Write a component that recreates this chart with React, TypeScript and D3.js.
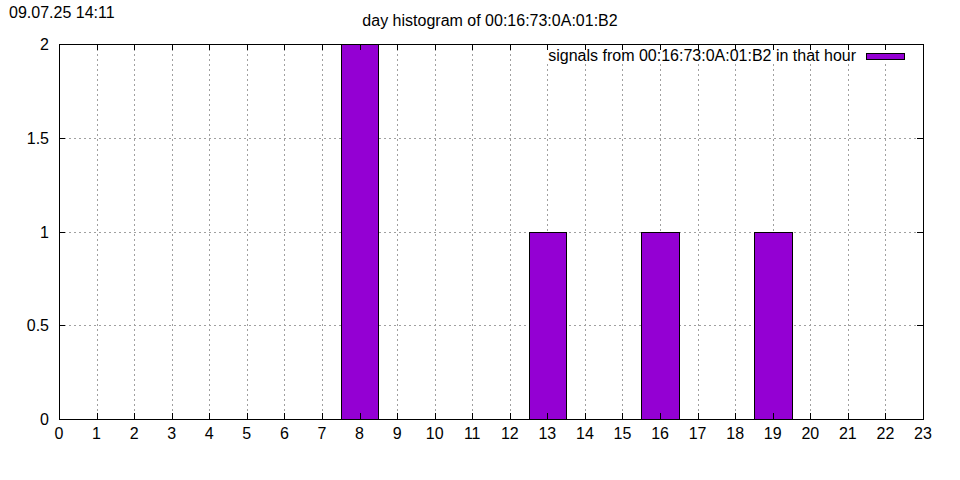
import React, { useEffect, useRef } from 'react';
import * as d3 from 'd3';

// hourly counts
const hours = d3.range(0, 24);
const counts = [0, 0, 0, 0, 0, 0, 0, 0, 2, 0, 0, 0, 0, 1, 0, 0, 1, 0, 0, 1, 0, 0, 0, 0];
const yTicks = [0, 0.5, 1, 1.5, 2];
const xTicks = d3.range(0, 24);

const title = 'day histogram of 00:16:73:0A:01:B2';
const stamp = '09.07.25 14:11';
const legendLabel = 'signals from 00:16:73:0A:01:B2 in that hour';

const App: React.FC = () => {
  const svgRef = useRef<SVGSVGElement>(null);

  useEffect(() => {
    if (!svgRef.current) return;
    const svg = d3.select(svgRef.current);
    svg.selectAll('*').remove();

    const left = 59, right = 923, top = 44, bottom = 419;
    const font = 'Liberation Sans, Arial, sans-serif';

    const x = d3.scaleLinear().domain([0, 23]).range([left, right]);
    const y = d3.scaleLinear().domain([0, 2]).range([bottom, top]);

    svg.append('rect').attr('width', 960).attr('height', 480).attr('fill', '#fff');

    // grid
    const grid = svg.append('g').attr('stroke', '#a0a0a0').attr('stroke-width', 1)
      .attr('stroke-dasharray', '2,3');
    grid.selectAll('.gx').data(xTicks.slice(1, -1)).join('line')
      .attr('x1', d => Math.round(x(d)) + 0.5).attr('x2', d => Math.round(x(d)) + 0.5)
      .attr('y1', top).attr('y2', bottom);
    grid.selectAll('.gy').data(yTicks.slice(1, -1)).join('line')
      .attr('y1', d => Math.round(y(d)) + 0.5).attr('y2', d => Math.round(y(d)) + 0.5)
      .attr('x1', left).attr('x2', right);

    // legend box (opaque)
    svg.append('rect').attr('x', 543).attr('y', top + 1).attr('width', 370).attr('height', 19)
      .attr('fill', '#fff');

    // bars
    const data = hours.map((h, i) => ({ h, v: counts[i] })).filter(d => d.v > 0);
    svg.append('g').selectAll('rect').data(data).join('rect')
      .attr('x', d => Math.round(x(d.h - 0.5)) + 0.5)
      .attr('width', d => Math.round(x(d.h + 0.5)) - Math.round(x(d.h - 0.5)))
      .attr('y', d => Math.round(y(d.v)) + 0.5)
      .attr('height', d => Math.round(y(0)) - Math.round(y(d.v)))
      .attr('fill', '#9400d3').attr('stroke', '#000').attr('stroke-width', 1);

    // ticks (mirrored, inward)
    const tk = svg.append('g').attr('stroke', '#000').attr('stroke-width', 1);
    xTicks.forEach(t => {
      const px = Math.round(x(t)) + 0.5;
      tk.append('line').attr('x1', px).attr('x2', px).attr('y1', bottom).attr('y2', bottom - 6);
      tk.append('line').attr('x1', px).attr('x2', px).attr('y1', top).attr('y2', top + 6);
    });
    yTicks.forEach(t => {
      const py = Math.round(y(t)) + 0.5;
      tk.append('line').attr('x1', left).attr('x2', left + 6).attr('y1', py).attr('y2', py);
      tk.append('line').attr('x1', right).attr('x2', right - 6).attr('y1', py).attr('y2', py);
    });

    // border
    svg.append('rect').attr('x', left + 0.5).attr('y', top + 0.5)
      .attr('width', right - left).attr('height', bottom - top)
      .attr('fill', 'none').attr('stroke', '#000').attr('stroke-width', 1);

    // tick labels
    svg.append('g').selectAll('text').data(xTicks).join('text')
      .attr('x', d => x(d)).attr('y', 439).attr('text-anchor', 'middle')
      .attr('font-family', font).attr('font-size', 16).text(d => String(d));
    svg.append('g').selectAll('text').data(yTicks).join('text')
      .attr('x', 49).attr('y', d => y(d) + 6).attr('text-anchor', 'end')
      .attr('font-family', font).attr('font-size', 16).text(d => String(d));

    // legend
    svg.append('text').attr('x', 856).attr('y', 61).attr('text-anchor', 'end')
      .attr('font-family', font).attr('font-size', 16).text(legendLabel);
    svg.append('rect').attr('x', 866.5).attr('y', 53.5).attr('width', 38).attr('height', 6)
      .attr('fill', '#9400d3').attr('stroke', '#000');

    // title and timestamp
    svg.append('text').attr('x', 490).attr('y', 26).attr('text-anchor', 'middle')
      .attr('font-family', font).attr('font-size', 16).text(title);
    svg.append('text').attr('x', 9).attr('y', 18)
      .attr('font-family', font).attr('font-size', 16).text(stamp);
  }, []);

  return (
    <svg ref={svgRef} width={960} height={480}
      style={{ position: 'absolute', left: 0, top: 0, display: 'block' }} />
  );
};

export default App;
